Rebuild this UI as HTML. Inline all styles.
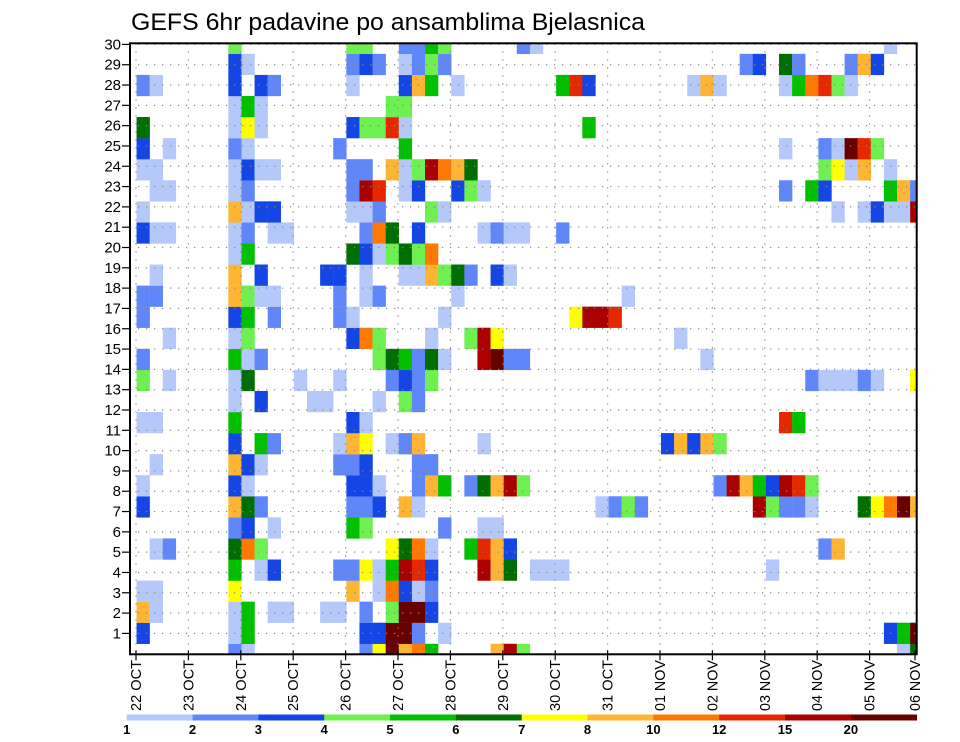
<!DOCTYPE html>
<html><head><meta charset="utf-8">
<style>
html,body{margin:0;padding:0;background:#fff;}
svg{display:block;font-family:"Liberation Sans",sans-serif;}
</style></head>
<body>
<svg id="chart" width="960" height="742" viewBox="0 0 960 742" xmlns="http://www.w3.org/2000/svg">
<text x="131" y="30" font-size="24" fill="#000" textLength="514" lengthAdjust="spacingAndGlyphs">GEFS 6hr padavine po ansamblima Bjelasnica</text>
<defs><clipPath id="plotclip"><rect x="130" y="43.3" width="786.7" height="611"/></clipPath></defs>
<g id="cells" clip-path="url(#plotclip)"></g>
<g id="grid"></g>
<rect x="130" y="43.3" width="786.7" height="611" fill="none" stroke="#000" stroke-width="2"/>
<g id="yaxis"></g>
<g id="xaxis"></g>
<g id="legend"></g>
</svg>
<script>
// Data: per ensemble member (1..30), cells "timestep:level" (level 1..12 -> colour bins)
const memberCells = [
 "", // placeholder index 0
 "8:2 9:1 18:2 19:7 20:c 21:8 22:9 23:5 28:8 29:b 30:4 59:1 60:6",
 "1:3 8:1 9:5 18:3 19:3 20:c 21:c 22:2 24:1 58:3 59:5 60:c",
 "1:8 2:1 8:1 9:5 11:1 12:1 15:1 16:1 18:2 20:4 21:c 22:c 23:3",
 "1:1 2:1 8:7 17:8 19:1 20:9 21:3 22:1 23:2",
 "8:5 10:1 11:3 16:2 17:2 18:7 19:1 20:5 21:b 22:a 23:3 27:b 28:8 29:6 31:1 32:1 33:1 49:1",
 "2:1 3:2 8:6 9:9 10:4 20:7 21:6 22:9 23:1 26:5 27:a 28:8 29:3 53:2 54:8",
 "8:2 9:3 11:1 17:5 18:4 24:2 27:1 28:1",
 "1:3 8:8 9:6 10:2 17:2 18:2 19:3 21:8 22:1 36:1 37:2 38:4 39:2 48:b 49:4 50:2 51:2 52:1 56:6 57:7 58:9 59:c 60:8",
 "1:1 8:3 9:1 17:3 18:3 19:1 22:2 23:8 24:5 26:2 27:6 28:8 29:b 30:4 45:2 46:b 47:8 48:5 49:3 50:b 51:a 52:4",
 "2:1 8:8 9:3 10:1 16:2 17:2 18:3 22:2 23:2",
 "8:3 10:5 11:2 16:1 17:8 18:7 20:1 21:2 22:8 27:1 41:3 42:8 43:3 44:8 45:4",
 "1:1 2:1 8:5 17:3 18:1 50:a 51:5",
 "8:1 10:3 14:1 15:1 19:1 21:4 22:2",
 "1:4 3:1 8:1 9:6 13:1 16:1 20:2 21:3 22:2 23:4 52:2 53:1 54:1 55:1 56:2 57:1 60:7",
 "1:2 8:5 9:1 10:2 19:4 20:6 21:5 22:2 23:6 24:1 27:b 28:c 29:2 30:2 44:1",
 "3:1 8:1 9:4 17:3 18:9 19:4 23:1 26:4 27:b 28:7 42:1",
 "1:2 8:3 9:5 11:2 16:2 17:1 24:1 34:7 35:b 36:b 37:a",
 "1:2 2:2 8:8 9:4 10:1 11:1 16:2 18:1 19:2 25:1 38:1",
 "2:1 8:8 10:3 15:3 16:3 18:1 21:1 22:1 23:8 24:4 25:6 26:2 28:3 29:1",
 "8:1 9:5 17:6 18:3 19:1 20:4 21:6 22:4 23:9",
 "1:3 2:1 3:1 8:1 9:2 11:1 12:1 18:2 19:9 20:6 22:3 27:1 28:2 29:1 30:1 33:2",
 "1:1 8:8 9:1 10:3 11:3 17:1 18:1 19:2 23:4 24:1 54:1 56:1 57:3 58:1 59:1 60:b",
 "2:1 3:1 8:1 9:2 17:2 18:b 19:a 21:1 22:3 25:3 26:4 27:1 50:2 52:5 53:3 58:5 59:8 60:2",
 "1:1 2:1 8:1 9:3 10:1 11:1 17:2 18:2 20:8 21:1 22:4 23:b 24:9 25:8 26:6 53:4 54:7 55:1 56:8 58:1",
 "1:3 3:1 8:2 9:1 16:2 21:5 50:1 53:2 54:1 55:c 56:a 57:4",
 "1:6 8:1 9:7 10:1 17:3 18:4 19:4 20:a 21:1 35:5",
 "8:1 9:5 10:1 20:4 21:4",
 "1:2 2:1 8:3 10:3 11:2 17:1 21:3 22:8 23:5 25:1 33:5 34:a 35:3 43:1 44:8 45:1 50:1 51:5 52:9 53:a 54:4 55:1",
 "8:3 9:1 17:2 18:3 19:2 21:1 22:2 23:4 24:2 47:2 48:3 50:6 51:2 55:2 56:8 57:3",
 "8:4 17:4 18:4 21:2 22:2 23:5 24:4 30:2 31:1 58:1"
];
const levelLabels = ["1","2","3","4","5","6","7","8","10","12","15","20"];
const levelColors = ["#b4c8fa","#5f87fa","#1446e6","#6ef050","#00c000","#006e00","#ffff00","#ffb432","#ff7800","#e62800","#aa0000","#690000"];
const yTickLabels = ["1","2","3","4","5","6","7","8","9","10","11","12","13","14","15","16","17","18","19","20","21","22","23","24","25","26","27","28","29","30"];
const dayLabels = ["22 OCT","23 OCT","24 OCT","25 OCT","26 OCT","27 OCT","28 OCT","29 OCT","30 OCT","31 OCT","01 NOV","02 NOV","03 NOV","04 NOV","05 NOV","06 NOV"];

const NS="http://www.w3.org/2000/svg";
const PL=130, PR=916.7, PT=43.3, PB=654.3;
const colW=(PR-PL)/60, rowH=(PB-PT)/29;
function xStep(k){return PL+k*colW;}
function yMember(m){return PB-(m-1)*rowH;}
function yTick(i){return 633.4-(i)*20.31;}
function xDay(d){return d<15?136+52.4*d:915;}
function mk(tag,attrs,parent){const e=document.createElementNS(NS,tag);for(const a in attrs)e.setAttribute(a,attrs[a]);parent.appendChild(e);return e;}

const gCells=document.getElementById('cells');
for(let m=1;m<memberCells.length;m++){
  const s=memberCells[m].trim(); if(!s)continue;
  s.split(/\s+/).forEach(tok=>{
    const [ks,ls]=tok.split(':');const k=+ks;const lv=parseInt(ls,16);
    const r=mk('rect',{x:(xStep(k)-colW/2).toFixed(2),y:(yMember(m)-rowH/2).toFixed(2),width:(colW+0.2).toFixed(2),height:(rowH+0.2).toFixed(2),fill:levelColors[lv-1]},gCells);
    
    
  });
}
const gGrid=document.getElementById('grid');
yTickLabels.forEach((t,i)=>{
  const l=mk('line',{x1:PL,x2:PR,y1:yTick(i),y2:yTick(i),stroke:'#888','stroke-width':1.2,'stroke-dasharray':'1.2 6.8'},gGrid);
  
  
});
dayLabels.forEach((t,d)=>{
  if(d===15)return;
  const l=mk('line',{x1:xDay(d),x2:xDay(d),y1:PT,y2:PB,stroke:'#888','stroke-width':1.2,'stroke-dasharray':'1.2 6.8'},gGrid);
  
  
});
const gY=document.getElementById('yaxis');
yTickLabels.forEach((t,i)=>{
  const y=yTick(i);
  const tk=mk('line',{x1:122,x2:130,y1:y,y2:y,stroke:'#000','stroke-width':1.2},gY);
  
  
  const tx=mk('text',{x:121,y:y+5,'font-size':15,'text-anchor':'end',fill:'#000'},gY);
  tx.textContent=t;
  
  
});
const gX=document.getElementById('xaxis');
dayLabels.forEach((t,d)=>{
  const x=xDay(d);
  const tk=mk('line',{x1:x,x2:x,y1:PB-4,y2:PB+6,stroke:'#000','stroke-width':1.2},gX);
  
  
  const tx=mk('text',{transform:'translate('+(x+5)+',711) rotate(-90)','font-size':15,fill:'#000',textLength:51,lengthAdjust:'spacingAndGlyphs'},gX);
  tx.textContent=t;
  
  
});
const gL=document.getElementById('legend');
const LX0=126.7, LX1=916.7, segW=(LX1-LX0)/levelColors.length;
levelColors.forEach((c,i)=>{
  const r=mk('rect',{x:LX0+i*segW,y:714.5,width:segW+0.3,height:6,fill:c},gL);
  
  
});
levelLabels.forEach((t,i)=>{
  const tx=mk('text',{x:LX0+i*segW,y:734,'font-size':13,'font-weight':'bold','text-anchor':'middle',fill:'#000'},gL);
  tx.textContent=t;
  
  
});
</script>
</body></html>
